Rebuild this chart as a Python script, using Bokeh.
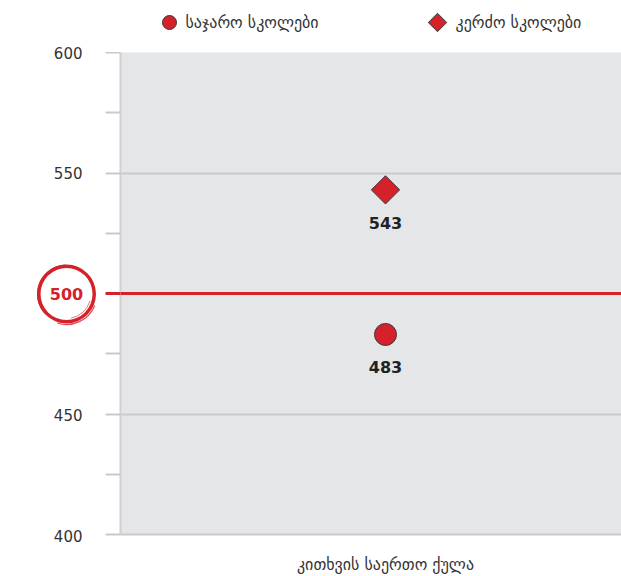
from bokeh.plotting import figure
from bokeh.layouts import row, column
from bokeh.models import Range1d, FixedTicker, Span, ColumnDataSource
from bokeh.embed import file_html
from bokeh.resources import INLINE
from bokeh.core.properties import value

category = "კითხვის საერთო ქულა"
series_names = ["საჯარო სკოლები", "კერძო სკოლები"]
series_values = [483, 543]
series_markers = ["circle", "diamond"]
benchmark = 500
y_ticks = [400, 450, 500, 550, 600]
y_minor = [425, 475, 525, 575]

FONT = "DejaVu Sans"
RED = "#d4212a"
GRID = "#c9cacd"
TOTAL_H = 576
TOP, BOTTOM = 52, 41
LEFT_W, MAIN_W = 105, 516
FRAME_L = 120
FRAME_H = TOTAL_H - TOP - BOTTOM
Y0, Y1 = 400, 600
k = (Y1 - Y0) / FRAME_H


def marker_kw(m, big):
    if m == "circle":
        return dict(marker="circle", size=22 if big else 14)
    return dict(marker="square", size=20 if big else 13, angle=0.785398)


# ---------- main plot ----------
p = figure(width=MAIN_W, height=TOTAL_H - TOP, output_backend="svg", toolbar_location=None,
           x_range=Range1d(-1, 0.8906), y_range=Range1d(Y0, Y1),
           min_border_left=FRAME_L - LEFT_W, min_border_right=0, min_border_top=0,
           min_border_bottom=BOTTOM, background_fill_color="#e5e6e8",
           border_fill_color="white", outline_line_color=None)

ya = p.yaxis[0]
ya.ticker = FixedTicker(ticks=[benchmark],
                        minor_ticks=[t for t in y_ticks + y_minor if t != benchmark])
ya.major_label_overrides = {benchmark: ""}
ya.major_label_text_font_size = "0px"
ya.major_label_standoff = 0
ya.major_tick_out = 15
ya.major_tick_in = 0
ya.minor_tick_out = 15
ya.minor_tick_in = 0
ya.major_tick_line_color = RED
ya.major_tick_line_width = 3
ya.minor_tick_line_color = GRID
ya.minor_tick_line_width = 2
ya.axis_line_color = "#cfd0d4"
ya.axis_line_width = 2

xa = p.xaxis[0]
xa.ticker = FixedTicker(ticks=[0])
xa.major_label_overrides = {0: category}
xa.major_tick_line_color = None
xa.minor_tick_line_color = None
xa.axis_line_color = GRID
xa.axis_line_width = 2
xa.major_label_text_font = FONT
xa.major_label_text_font_size = "16px"
xa.major_label_text_color = "#333333"
xa.major_label_standoff = 14

p.xgrid.grid_line_color = None
p.ygrid.ticker = FixedTicker(ticks=[450, 550, 600])
p.ygrid.grid_line_color = GRID
p.ygrid.grid_line_width = 2

p.add_layout(Span(location=benchmark, dimension="width", line_color=RED, line_width=3))

for name, v, m in zip(series_names, series_values, series_markers):
    src = ColumnDataSource(dict(x=[0], y=[v], lbl=[str(v)]))
    p.scatter("x", "y", source=src, fill_color=RED, line_color="#3a3a3a",
              line_width=1, **marker_kw(m, True))
    p.text("x", "y", text="lbl", source=src, x_offset=0, y_offset=33,
           text_align="center", text_baseline="middle",
           text_font=value(FONT), text_font_style="bold",
           text_font_size="16px", text_color="#222222")

# ---------- left side: tick labels and benchmark ring (same y scale) ----------
lp = figure(width=LEFT_W, height=TOTAL_H, output_backend="svg", toolbar_location=None,
            x_range=Range1d(0, LEFT_W),
            y_range=Range1d(Y0 - BOTTOM * k, Y1 + TOP * k),
            min_border=0, background_fill_color="white",
            border_fill_color="white", outline_line_color=None)
lp.axis.visible = False
lp.grid.visible = False

lab_vals = [t for t in y_ticks if t != benchmark]
lp.text(x=[82] * len(lab_vals), y=lab_vals, text=[str(t) for t in lab_vals],
        text_align="right", text_baseline="middle", text_font=value(FONT),
        text_font_size="15px", text_color="#333333")

lp.annulus(x=[66], y=[benchmark], inner_radius=26, outer_radius=29.5,
           inner_radius_units="screen", outer_radius_units="screen",
           fill_color=RED, line_color=None)
lp.arc(x=[66], y=[benchmark], radius=28, radius_units="screen",
       start_angle=1.6, end_angle=3.9, line_color=RED, line_width=3)
lp.arc(x=[66], y=[benchmark], radius=30.5, radius_units="screen",
       start_angle=4.4, end_angle=5.9, line_color=RED, line_width=1.2, line_alpha=0.8)
lp.arc(x=[66], y=[benchmark], radius=24.5, radius_units="screen",
       start_angle=4.9, end_angle=6.0, line_color=RED, line_width=1, line_alpha=0.6)
lp.text(x=[66], y=[benchmark], text=[str(benchmark)], text_align="center",
        text_baseline="middle", text_font=value(FONT), text_font_style="bold",
        text_font_size="16px", text_color=RED)

# ---------- legend strip on top (its frame is aligned with the main frame) ----------
tp = figure(width=MAIN_W, height=TOP, output_backend="svg", toolbar_location=None,
            x_range=Range1d(FRAME_L, LEFT_W + MAIN_W), y_range=Range1d(0, TOP),
            min_border=0, background_fill_color="white",
            border_fill_color="white", outline_line_color=None)
tp.axis.visible = False
tp.grid.visible = False
leg_x = [169, 437]
leg_gap = [16, 18]
for name, m, lx, g in zip(series_names, series_markers, leg_x, leg_gap):
    tp.scatter(x=[lx], y=[30], fill_color=RED, line_color="#3a3a3a",
               line_width=1, **marker_kw(m, False))
    tp.text(x=[lx + g], y=[30], text=[name], text_align="left",
            text_baseline="middle", text_font=value(FONT),
            text_font_size="16px", text_color="#333333")

layout = row(lp, column(tp, p, spacing=0), spacing=0)
open("out.html", "w").write(file_html(layout, INLINE))
